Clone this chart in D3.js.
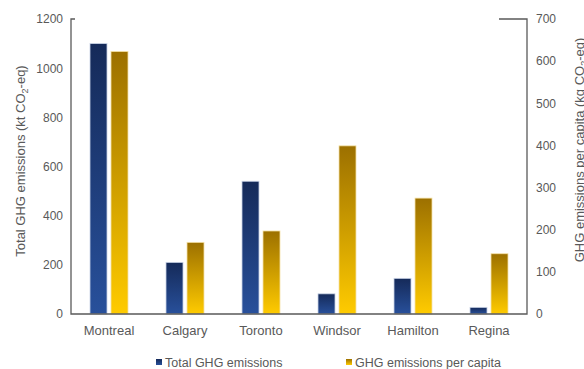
<!DOCTYPE html>
<html>
<head>
<meta charset="utf-8">
<script src="https://cdn.jsdelivr.net/npm/d3@7/dist/d3.min.js"></script>
<style>
  html, body { margin: 0; padding: 0; background: #fff; }
  svg { display: block; font-family: "Liberation Sans", Arial, sans-serif; }
</style>
</head>
<body>
<svg id="chart" width="584" height="369"></svg>
<script>
// City-level emissions
const cities = ["Montreal", "Calgary", "Toronto", "Windsor", "Hamilton", "Regina"];
const totalEmissions = [1100, 210, 540, 82, 145, 27];      // kt CO2-eq
const perCapitaEmissions = [623, 170, 197, 399, 275, 143]; // kg CO2-eq
const leftTicks = [0, 200, 400, 600, 800, 1000, 1200];
const rightTicks = [0, 100, 200, 300, 400, 500, 600, 700];
const seriesNames = ["Total GHG emissions", "GHG emissions per capita"];

const svg = d3.select("#chart");
const textColor = "#595959";
const lineColor = "#5a5a5a";

const plot = { left: 71, right: 527, top: 19, bottom: 314 };

const x = d3.scaleBand().domain(cities).range([plot.left, plot.right]).paddingInner(0).paddingOuter(0);
const yL = d3.scaleLinear().domain([0, 1200]).range([plot.bottom, plot.top]);
const yR = d3.scaleLinear().domain([0, 700]).range([plot.bottom, plot.top]);

// Vertical gradients for the two series
const defs = svg.append("defs");
function gradient(id, top, bottom) {
  const g = defs.append("linearGradient").attr("id", id)
    .attr("x1", 0).attr("y1", 0).attr("x2", 0).attr("y2", 1);
  g.append("stop").attr("offset", "0%").attr("stop-color", top);
  g.append("stop").attr("offset", "100%").attr("stop-color", bottom);
}
gradient("gBlue", "#152a59", "#28509b");
gradient("gGold", "#9c7000", "#ffcb00");

const barW = 17, gap = 2;

// Total emissions bars (left axis)
svg.append("g").selectAll("rect")
  .data(cities)
  .join("rect")
  .attr("x", (d) => x(d) + x.bandwidth() / 2 - gap - barW)
  .attr("width", barW)
  .attr("y", (d, i) => yL(totalEmissions[i]))
  .attr("height", (d, i) => yL(0) - yL(totalEmissions[i]))
  .attr("fill", "url(#gBlue)")
  .attr("stroke", "#c9d3e6")
  .attr("stroke-width", 0.8);

// Per-capita bars (right axis)
svg.append("g").selectAll("rect")
  .data(cities)
  .join("rect")
  .attr("x", (d) => x(d) + x.bandwidth() / 2 + gap)
  .attr("width", barW)
  .attr("y", (d, i) => yR(perCapitaEmissions[i]))
  .attr("height", (d, i) => yR(0) - yR(perCapitaEmissions[i]))
  .attr("fill", "url(#gGold)")
  .attr("stroke", "#f5e2a8")
  .attr("stroke-width", 0.8);

// Axes (labels only; frame drawn separately)
const fmt = d3.format("d");
const axL = svg.append("g").attr("transform", `translate(${plot.left},0)`)
  .call(d3.axisLeft(yL).tickValues(leftTicks).tickFormat(fmt).tickSize(0).tickPadding(8));
const axR = svg.append("g").attr("transform", `translate(${plot.right},0)`)
  .call(d3.axisRight(yR).tickValues(rightTicks).tickFormat(fmt).tickSize(0).tickPadding(9));
const axB = svg.append("g").attr("transform", `translate(0,${plot.bottom})`)
  .call(d3.axisBottom(x).tickSize(0).tickPadding(12));
[axL, axR, axB].forEach((a) => {
  a.select(".domain").remove();
  a.selectAll("text").attr("fill", textColor).attr("font-family", "Liberation Sans, Arial, sans-serif");
});
axL.selectAll("text").attr("font-size", 12);
axR.selectAll("text").attr("font-size", 12);
axB.selectAll("text").attr("font-size", 13);

// Frame
const frame = svg.append("g").attr("stroke", lineColor).attr("stroke-width", 1.3).attr("fill", "none");
frame.append("path").attr("d",
  `M${plot.left + 4},${plot.top} H${plot.left} V${plot.bottom} H${plot.right} V${plot.top} H${plot.right - 28}`);

// Axis titles
function title(tx, ty, main, tail) {
  const t = svg.append("text")
    .attr("transform", `translate(${tx},${ty}) rotate(-90)`)
    .attr("text-anchor", "middle")
    .attr("font-size", 13)
    .attr("fill", textColor);
  t.append("tspan").text(main);
  t.append("tspan").attr("font-size", 9).attr("dy", 3).text("2");
  t.append("tspan").attr("dy", -3).text(tail);
}
title(24.5, 161, "Total GHG emissions (kt CO", "-eq)");
title(583.5, 150, "GHG emissions per capita (kg CO", "-eq)");

// Legend
const legend = svg.append("g");
const legendX = [156, 346];
const legendFill = ["url(#gBlue)", "url(#gGold)"];
seriesNames.forEach((name, i) => {
  legend.append("rect")
    .attr("x", legendX[i]).attr("y", 359)
    .attr("width", 6).attr("height", 6)
    .attr("fill", legendFill[i]);
  legend.append("text")
    .attr("x", legendX[i] + 9).attr("y", 366.5)
    .attr("font-size", 12.5)
    .attr("fill", textColor)
    .text(name);
});
</script>
</body>
</html>
